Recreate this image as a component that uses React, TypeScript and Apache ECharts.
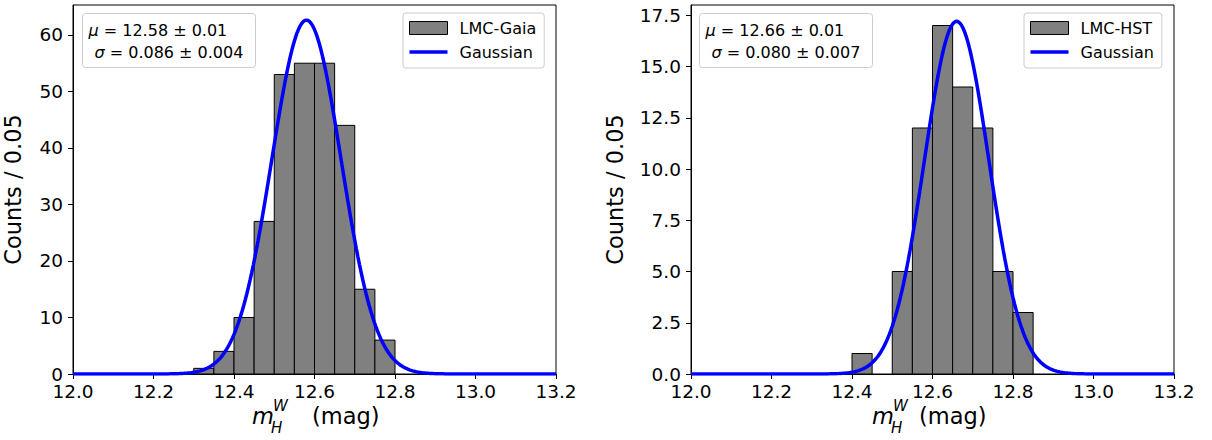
import React, { useEffect, useRef } from "react";
import * as echarts from "echarts";

// ---- data ----
const binWidth = 0.05;
const gaiaBinStarts = [12.3, 12.35, 12.4, 12.45, 12.5, 12.55, 12.6, 12.65, 12.7, 12.75];
const gaiaCounts = [1, 4, 10, 27, 53, 55, 55, 44, 15, 6];
const hstBinStarts = [12.4, 12.45, 12.5, 12.55, 12.6, 12.65, 12.7, 12.75, 12.8];
const hstCounts = [1, 0, 5, 12, 17, 14, 12, 5, 3];
const gaiaMu = 12.58;
const gaiaSigma = 0.086;
const hstMu = 12.66;
const hstSigma = 0.08;
const xTicks = [12.0, 12.2, 12.4, 12.6, 12.8, 13.0, 13.2];
const gaiaYTicks = [0, 10, 20, 30, 40, 50, 60];
const hstYTicks = [0, 2.5, 5, 7.5, 10, 12.5, 15, 17.5];
const gaiaName = "LMC-Gaia";
const hstName = "LMC-HST";
const fitName = "Gaussian";
const gaiaText = ["12.58 ± 0.01", "0.086 ± 0.004"];
const hstText = ["12.66 ± 0.01", "0.080 ± 0.007"];

const FONT = "DejaVu Sans";

function histData(starts: number[], counts: number[]) {
  const out: number[][] = [];
  starts.forEach((s, i) => {
    if (counts[i] > 0) out.push([s, s + binWidth, counts[i]]);
  });
  return out;
}

// Gaussian model curve defined by the fitted parameters shown on the chart
function gaussCurve(mu: number, sigma: number, counts: number[]) {
  const total = counts.reduce((a, b) => a + b, 0);
  const amp = (total * binWidth) / (sigma * Math.sqrt(2 * Math.PI));
  const pts: number[][] = [];
  const n = 300;
  for (let i = 0; i <= n; i++) {
    const x = 12.0 + (1.2 * i) / n;
    pts.push([x, amp * Math.exp(-0.5 * ((x - mu) / sigma) ** 2)]);
  }
  return pts;
}

const renderBar = (params: any, api: any) => {
  const p0 = api.coord([api.value(0), api.value(2)]);
  const p1 = api.coord([api.value(1), 0]);
  return {
    type: "rect",
    shape: { x: p0[0], y: p0[1], width: p1[0] - p0[0], height: p1[1] - p0[1] },
    style: { fill: "#808080", stroke: "#000000", lineWidth: 1 },
  };
};

function xAxisOf(gridIndex: number) {
  return {
    type: "value",
    gridIndex,
    min: 12.0,
    max: 13.2,
    axisLine: { show: true, onZero: false, lineStyle: { color: "#000", width: 1 } },
    axisTick: { show: true, length: 5, customValues: xTicks, lineStyle: { color: "#000" } },
    axisLabel: {
      customValues: xTicks,
      formatter: (v: number) => v.toFixed(1),
      fontSize: 18.5,
      fontFamily: FONT,
      color: "#000",
      margin: 8,
    },
    splitLine: { show: false },
  };
}

function yAxisOf(gridIndex: number, max: number, ticks: number[], decimals: number, gap: number) {
  return {
    type: "value",
    gridIndex,
    min: 0,
    max,
    name: "Counts / 0.05",
    nameLocation: "middle",
    nameGap: gap,
    nameTextStyle: { fontSize: 22.5, fontFamily: FONT, color: "#000" },
    axisLine: { show: true, lineStyle: { color: "#000", width: 1 } },
    axisTick: { show: true, length: 5, customValues: ticks, lineStyle: { color: "#000" } },
    axisLabel: {
      customValues: ticks,
      formatter: (v: number) => v.toFixed(decimals),
      fontSize: 18.5,
      fontFamily: FONT,
      color: "#000",
      margin: 10,
    },
    splitLine: { show: false },
  };
}

function legendOf(left: number, name: string) {
  return {
    orient: "vertical",
    left,
    top: 13,
    padding: [7, 8, 8, 6],
    itemGap: 8,
    itemWidth: 38,
    itemHeight: 13,
    borderColor: "#cccccc",
    borderWidth: 1,
    borderRadius: 3,
    backgroundColor: "#ffffff",
    textStyle: { fontSize: 16, fontFamily: FONT, color: "#000", padding: [0, 0, 0, 7] },
    data: [
      { name, icon: "rect", itemStyle: { color: "#808080", borderColor: "#000", borderWidth: 1 } },
      {
        name: fitName,
        icon: "path://M0,0 L38,0 L38,3.5 L0,3.5 Z",
        itemStyle: { color: "#0000ff", borderWidth: 0 },
        lineStyle: { width: 0, opacity: 0 },
      },
    ],
  };
}

function annotation(x: number, lines: string[]) {
  const rich = {
    i: { fontStyle: "italic", fontSize: 16, fontFamily: FONT, fill: "#000" },
  };
  return {
    type: "group",
    left: x,
    top: 13,
    children: [
      {
        type: "rect",
        shape: { x: 0, y: 0, width: 173, height: 54, r: 3 },
        style: { fill: "#ffffff", stroke: "#cccccc", lineWidth: 1 },
      },
      {
        type: "text",
        x: 6,
        y: 17,
        style: {
          text: "{i|μ} = " + lines[0],
          font: `16px "${FONT}"`,
          fill: "#000",
          verticalAlign: "middle",
          rich,
        },
      },
      {
        type: "text",
        x: 12,
        y: 39,
        style: {
          text: "{i|σ} = " + lines[1],
          font: `16px "${FONT}"`,
          fill: "#000",
          verticalAlign: "middle",
          rich,
        },
      },
    ],
  };
}

function xLabel(x: number, magX: number) {
  const it = `italic 22.5px "${FONT}"`;
  const its = `italic 15px "${FONT}"`;
  return {
    type: "group",
    left: x,
    top: 398,
    children: [
      { type: "text", x: 0, y: 8, style: { text: "m", font: it, fill: "#000" } },
      { type: "text", x: 21, y: 2, style: { text: "W", font: its, fill: "#000" } },
      { type: "text", x: 19, y: 24, style: { text: "H", font: its, fill: "#000" } },
      { type: "text", x: magX, y: 8, style: { text: "(mag)", font: `22.5px "${FONT}"`, fill: "#000" } },
    ],
  };
}

export default function App() {
  const ref = useRef<HTMLDivElement>(null);
  useEffect(() => {
    if (!ref.current) return;
    const chart = echarts.init(ref.current, undefined, { renderer: "svg" });
    const option: any = {
      animation: false,
      backgroundColor: "#ffffff",
      grid: [
        { left: 73, top: 5, width: 483, height: 369, show: true, borderColor: "#000", borderWidth: 1, backgroundColor: "transparent" },
        { left: 691, top: 5, width: 483, height: 369, show: true, borderColor: "#000", borderWidth: 1, backgroundColor: "transparent" },
      ],
      xAxis: [xAxisOf(0), xAxisOf(1)],
      yAxis: [yAxisOf(0, 65.3, gaiaYTicks, 0, 49), yAxisOf(1, 18.0, hstYTicks, 1, 65)],
      legend: [legendOf(403, gaiaName), legendOf(1024, hstName)],
      series: [
        {
          name: gaiaName,
          type: "custom",
          xAxisIndex: 0,
          yAxisIndex: 0,
          renderItem: renderBar,
          encode: { x: [0, 1], y: 2 },
          data: histData(gaiaBinStarts, gaiaCounts),
          itemStyle: { color: "#808080", borderColor: "#000", borderWidth: 1 },
          z: 2,
        },
        {
          name: fitName,
          type: "line",
          xAxisIndex: 0,
          yAxisIndex: 0,
          data: gaussCurve(gaiaMu, gaiaSigma, gaiaCounts),
          symbol: "none",
          lineStyle: { color: "#0000ff", width: 3.5 },
          itemStyle: { color: "#0000ff" },
          z: 3,
        },
        {
          name: hstName,
          type: "custom",
          xAxisIndex: 1,
          yAxisIndex: 1,
          renderItem: renderBar,
          encode: { x: [0, 1], y: 2 },
          data: histData(hstBinStarts, hstCounts),
          itemStyle: { color: "#808080", borderColor: "#000", borderWidth: 1 },
          z: 2,
        },
        {
          name: fitName,
          type: "line",
          xAxisIndex: 1,
          yAxisIndex: 1,
          data: gaussCurve(hstMu, hstSigma, hstCounts),
          symbol: "none",
          lineStyle: { color: "#0000ff", width: 3.5 },
          itemStyle: { color: "#0000ff" },
          z: 3,
        },
      ],
      graphic: [
        annotation(82, gaiaText),
        annotation(699, hstText),
        xLabel(252, 60),
        xLabel(872, 47),
      ],
    };
    chart.setOption(option);
    return () => chart.dispose();
  }, []);
  return (
    <div
      ref={ref}
      style={{ position: "fixed", left: 0, top: 0, width: 1212, height: 440, background: "#fff" }}
    />
  );
}
